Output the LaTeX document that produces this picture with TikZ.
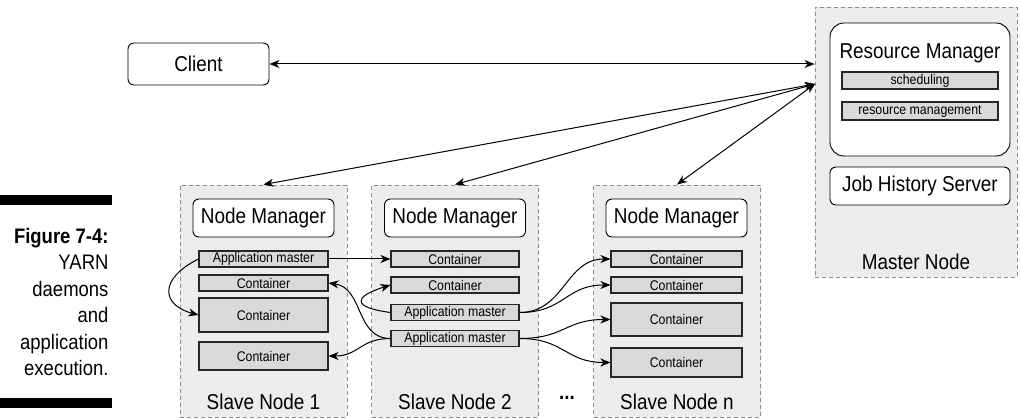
\documentclass[tikz,border=0pt]{standalone}
\usepackage{fontspec}
\setmainfont{Liberation Sans}[FakeStretch=0.88]
\usetikzlibrary{arrows.meta}

\begin{document}
\begin{tikzpicture}[x=1pt,y=1pt]

\tikzset{region/.style = {draw=gray!90, fill=gray!15, dash pattern=on 4pt off 3pt, line width=0.9pt, minimum width=167pt, minimum height=232pt, inner sep=0pt}}
\tikzset{daemon/.style = {draw, fill=white, rounded corners=6pt, line width=0.9pt, minimum width=141pt, minimum height=38pt, inner sep=0pt, font=\fontsize{21.5}{25}\selectfont}}
\tikzset{slot/.style = {draw=black!85, fill=gray!30, line width=1.1pt, minimum width=129pt, minimum height=16pt, inner sep=0pt, font=\fontsize{14}{16}\selectfont}}
\tikzset{bigtext/.style = {font=\fontsize{21.5}{25}\selectfont}}
\tikzset{link/.style = {line width=1pt, -{Stealth[length=10pt,width=8pt,inset=3pt]}}}
\tikzset{duplex/.style = {line width=1pt, {Stealth[length=10pt,width=8pt,inset=3pt]}-{Stealth[length=10pt,width=8pt,inset=3pt]}}}

\useasboundingbox (0,0) rectangle (1020,-419);

% regions
\node[region] (slave1) at (263.5,-301) {};
\node[region] (slave2) at (455,-301) {};
\node[region] (slaven) at (677,-301) {};
\node[region, minimum width=202pt, minimum height=270pt] (master) at (916,-142) {};

% master node
\node[daemon, minimum width=180pt, minimum height=133pt, rounded corners=14pt] (rm) at (920,-89.5) {};
\node[bigtext] (rmlabel) at (920,-53) {Resource Manager};
\node[slot, minimum width=156pt, minimum height=17pt] (sched) at (920,-80.5) {scheduling};
\node[slot, minimum width=156pt, minimum height=18pt] (resmgmt) at (920,-111) {resource management};
\node[daemon, minimum width=180pt] (jhs) at (920,-186) {Job History Server};
\node[bigtext] (masterlabel) at (916,-262) {Master Node};

% client
\node[daemon, minimum height=42pt] (client) at (198.5,-64) {Client};

% node managers
\node[daemon] (nm1) at (263.5,-218) {Node Manager};
\node[daemon] (nm2) at (455,-218) {Node Manager};
\node[daemon] (nmn) at (676.5,-218) {Node Manager};

% slave node 1
\node[slot] (am1) at (263.5,-259) {Application master};
\node[slot] (s1c1) at (263.5,-283) {Container};
\node[slot, minimum height=34pt] (s1c2) at (263.5,-315) {Container};
\node[slot, minimum height=28pt] (s1c3) at (263.5,-356) {Container};
\node[bigtext] (label1) at (263.5,-402) {Slave Node 1};

% slave node 2
\node[slot, minimum width=128pt] (s2c1) at (455,-259) {Container};
\node[slot, minimum width=128pt] (s2c2) at (455,-285) {Container};
\node[slot, minimum width=128pt] (am2) at (455,-312.5) {Application master};
\node[slot, minimum width=128pt] (am3) at (455,-338.5) {Application master};
\node[bigtext] (label2) at (455,-402) {Slave Node 2};
\node[bigtext] (dots) at (567,-398) {\textbf{...}};

% slave node n
\node[slot, minimum width=131pt] (snc1) at (676.5,-259) {Container};
\node[slot, minimum width=131pt] (snc2) at (676.5,-285) {Container};
\node[slot, minimum width=131pt, minimum height=33pt] (snc3) at (676.5,-319.5) {Container};
\node[slot, minimum width=131pt, minimum height=29pt] (snc4) at (676.5,-362.5) {Container};
\node[bigtext] (labeln) at (677,-402) {Slave Node n};

% caption
\fill (0,-195) rectangle (112,-205);
\fill (0,-398) rectangle (112,-408);
\node[align=right, anchor=east, font=\fontsize{21}{26.4}\selectfont] (caption) at (112,-302) {\textbf{Figure 7-4:}\\YARN\\daemons\\and\\application\\execution.};

% edges
\coordinate (hub) at (815,-84);
\draw[duplex] (client) -- (client -| master.west);
\draw[duplex] (hub) -- (slave1.north);
\draw[duplex] (hub) -- (slave2.north);
\draw[duplex] (hub) -- (slaven.north);
\draw[link] (am1) -- (s2c1);
\draw[link] (am1.west) .. controls +(-40,-20) and +(-37,10) .. (s1c2.west);
\draw[link] (am2.west) .. controls +(-38,5) and +(-38,-12) .. (s2c2.west);
\draw[link] (am3.west) .. controls +(-35,0) and +(35,-5) .. (s1c1.east);
\draw[link] (am3.west) .. controls +(-30,0) and +(30,0) .. (s1c3.east);
\draw[link] (am2.east) .. controls +(45,0) and +(-45,0) .. (snc1.west);
\draw[link] (am2.east) .. controls +(45,0) and +(-45,0) .. (snc2.west);
\draw[link] (am3.east) .. controls +(45,0) and +(-45,0) .. (snc3.west);
\draw[link] (am3.east) .. controls +(45,0) and +(-45,0) .. (snc4.west);
\end{tikzpicture}
\end{document}
